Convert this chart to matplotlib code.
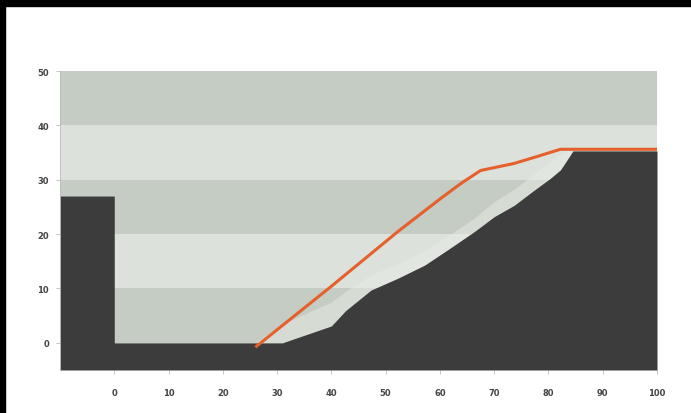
import matplotlib.pyplot as plt
from matplotlib.patches import Rectangle

# bands of the background (bottom, top)
band_edges = [0, 10, 20, 30, 40, 50]
band_colors = ['#c4ccc3', '#dde1dc', '#c4ccc3', '#dde1dc', '#c4ccc3']

# ground profile
ground_x = [-10, 0, 0, 31, 40, 42.6, 47.3, 52.3, 57.2, 62, 66.4, 70, 73.7, 77, 80.4, 82.2, 83.4, 84.5, 100]
ground_y = [27, 27, 0, 0, 3.1, 5.9, 9.7, 11.9, 14.3, 17.5, 20.5, 23.2, 25.3, 27.8, 30.3, 31.8, 33.6, 35.3, 35.3]

# pale strip above the slope
pale_x = [26, 31, 40, 42.6, 47.3, 52.3, 57.2, 62, 66.4, 70, 73.7, 77, 80.4, 82.9, 84.5]
pale_top = [0, 3.5, 7.5, 9.5, 12.5, 14.6, 17.0, 20.0, 23.0, 26.0, 28.3, 30.8, 33.4, 35.3, 35.3]
pale_bot = [0, 0, 3.1, 5.9, 9.7, 11.9, 14.3, 17.5, 20.5, 23.2, 25.3, 27.8, 30.3, 32.7, 35.3]

# orange line
line_x = [26, 40, 52.3, 60.2, 64, 67.5, 73.7, 78, 82.2, 100]
line_y = [-0.8, 10.4, 20.5, 26.6, 29.4, 31.7, 33.0, 34.3, 35.6, 35.6]

xticks = [0, 10, 20, 30, 40, 50, 60, 70, 80, 90, 100]
yticks = [0, 10, 20, 30, 40, 50]

fig = plt.figure(figsize=(6.91, 4.14), dpi=100)
ax = fig.add_axes([60 / 691, 43 / 414, 597 / 691, 299 / 414])

for i in range(len(band_colors)):
    ax.axhspan(band_edges[i], band_edges[i + 1], color=band_colors[i], lw=0, zorder=0)

ax.fill_between(pale_x, pale_bot, pale_top, color='#e8ebe5', alpha=0.5, lw=0, zorder=1)
ax.fill_between(ground_x, -5, ground_y, color='#3c3c3c', lw=0, zorder=2)
ax.plot(line_x, line_y, color='#e5602b', lw=2.2, solid_capstyle='butt', zorder=3)

ax.set_xlim(-10, 100)
ax.set_ylim(-5, 50)
ax.set_xticks(xticks)
ax.set_yticks(yticks)
ax.tick_params(axis='both', labelsize=6, colors='#bbbbbb', labelcolor='#444444', length=3, width=0.6)
ax.tick_params(axis='x', pad=10)
ax.tick_params(axis='y', pad=5)
for lab in ax.get_xticklabels() + ax.get_yticklabels():
    lab.set_fontweight('bold')
for s in ['top', 'right', 'bottom']:
    ax.spines[s].set_visible(False)
ax.spines['left'].set_color('#bbbbbb')
ax.spines['left'].set_linewidth(0.6)

# black frame on top and left
fig.patches.append(Rectangle((0, 1 - 7 / 414), 1, 7 / 414, transform=fig.transFigure, color='black', zorder=10))
fig.patches.append(Rectangle((0, 0), 5 / 691, 1, transform=fig.transFigure, color='black', zorder=10))

fig.savefig('out.png', dpi=100)
